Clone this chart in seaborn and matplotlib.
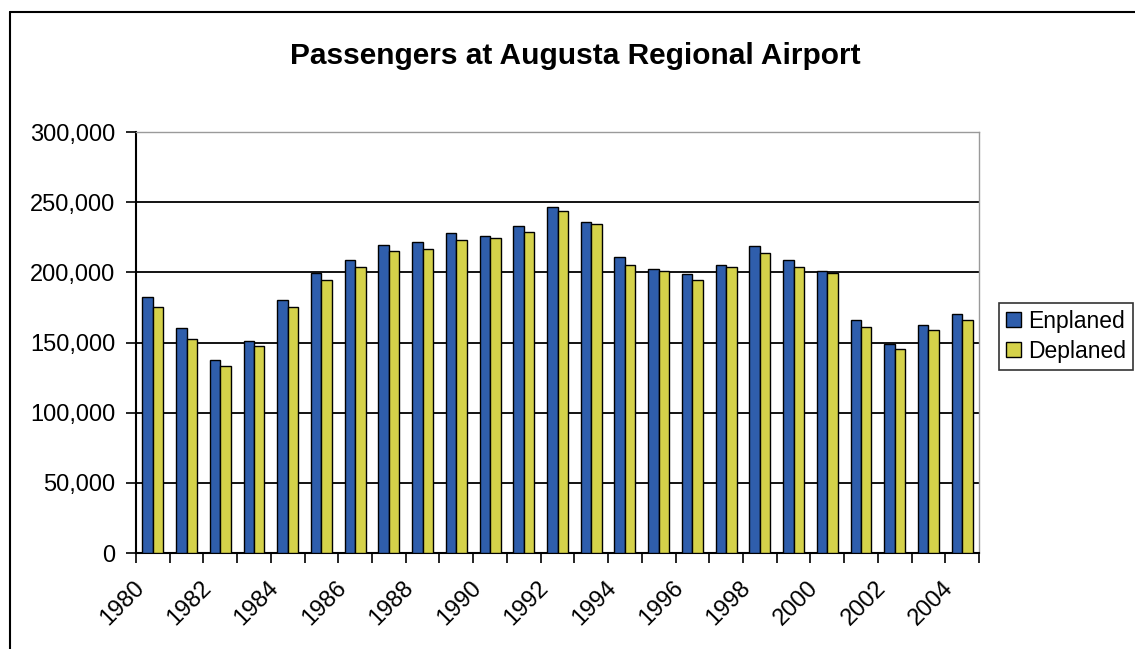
import matplotlib
matplotlib.use("Agg")
import matplotlib.pyplot as plt
import matplotlib.lines as mlines
import matplotlib.transforms as mtransforms
import seaborn as sns
import pandas as pd
import numpy as np
from matplotlib.ticker import FuncFormatter

years = [str(y) for y in range(1980, 2005)]
enplaned = [182500, 160500, 137300, 151400, 180000, 199500, 208700, 219400,
            221800, 228200, 225600, 233300, 246500, 235600, 210600, 202300,
            199000, 205400, 218700, 208900, 201100, 165900, 148600, 162300,
            170400]
deplaned = [175400, 152500, 133000, 147600, 175100, 194400, 203500, 215200,
            216900, 222900, 224600, 228400, 243900, 234500, 205400, 201100,
            194400, 203500, 214100, 203900, 199300, 160800, 145100, 158700,
            166200]
series = ["Enplaned", "Deplaned"]
colors = ["#2F5EAC", "#D5D24A"]
y_ticks = [0, 50000, 100000, 150000, 200000, 250000, 300000]


def comma(v, pos):
    return "{:,.0f}".format(v)


def main():
    df = pd.DataFrame({
        "year": years * 2,
        "series": [series[0]] * len(years) + [series[1]] * len(years),
        "value": enplaned + deplaned,
    })

    sns.set_style("white")
    plt.rcParams["font.family"] = ["Liberation Sans", "DejaVu Sans"]
    plt.rcParams["text.color"] = "black"
    plt.rcParams["xtick.color"] = "black"
    plt.rcParams["ytick.color"] = "black"

    fig = plt.figure(figsize=(11.35, 6.49), dpi=100)
    ax = fig.add_axes([136 / 1135, 1 - 553 / 649, 843 / 1135, 421 / 649])

    sns.barplot(data=df, x="year", y="value", hue="series", order=years,
                hue_order=series, palette=colors, width=0.62,
                edgecolor="black", linewidth=1.0, saturation=1,
                errorbar=None, ax=ax, zorder=3)

    ax.set_xlim(-0.5, len(years) - 0.5)
    ax.set_ylim(0, 300000)
    ax.set_yticks(y_ticks)
    ax.yaxis.set_major_formatter(FuncFormatter(comma))
    ax.set_xticks(range(0, len(years), 2))
    ax.set_xticklabels(years[::2], rotation=45, ha="right",
                       rotation_mode="anchor")
    ax.set_xticks(np.arange(-0.5, len(years), 1), minor=True)
    ax.tick_params(axis="x", which="major", length=0, pad=17, labelsize=17)
    ax.tick_params(axis="x", which="minor", length=7, width=1.2,
                   direction="out", color="black", bottom=True)
    ax.tick_params(axis="y", length=7, width=1.2, direction="out",
                   color="black", left=True, labelsize=17, pad=8)
    shift = mtransforms.ScaledTranslation(-20 / 100, 0, fig.dpi_scale_trans)
    for lab in ax.get_xticklabels():
        lab.set_transform(lab.get_transform() + shift)
    ax.set_xlabel("")
    ax.set_ylabel("")

    ax.yaxis.grid(True, color="black", linewidth=1.3, zorder=1)
    ax.set_axisbelow(True)
    for side in ["left", "bottom"]:
        ax.spines[side].set_color("black")
        ax.spines[side].set_linewidth(1.5)
    for side in ["top", "right"]:
        ax.spines[side].set_color("#9a9a9a")
        ax.spines[side].set_linewidth(1.0)

    ax.get_legend().remove()
    handles = [plt.Rectangle((0, 0), 1, 1, facecolor=c, edgecolor="black",
                             linewidth=1.0) for c in colors]
    leg = fig.legend(handles, series, loc="upper left",
                     bbox_to_anchor=(999 / 1135, 1 - 303 / 649),
                     fontsize=16.5, frameon=True, fancybox=False,
                     handlelength=0.65, handleheight=0.65, handletextpad=0.3,
                     borderpad=0.3, labelspacing=0.3, borderaxespad=0)
    leg.get_frame().set_edgecolor("black")
    leg.get_frame().set_linewidth(1.2)

    fig.text(575 / 1135, 1 - 56 / 649, "Passengers at Augusta Regional Airport",
             ha="center", va="center", fontsize=21.5, fontweight="bold",
             color="black")

    # chart area border (left and top edges visible)
    fig.add_artist(mlines.Line2D([10 / 1135, 10 / 1135], [0, 1 - 12 / 649],
                                 transform=fig.transFigure, color="black",
                                 linewidth=1.5))
    fig.add_artist(mlines.Line2D([10 / 1135, 1], [1 - 12 / 649, 1 - 12 / 649],
                                 transform=fig.transFigure, color="black",
                                 linewidth=1.5))

    fig.savefig("out.png", dpi=100)


if __name__ == "__main__":
    main()
